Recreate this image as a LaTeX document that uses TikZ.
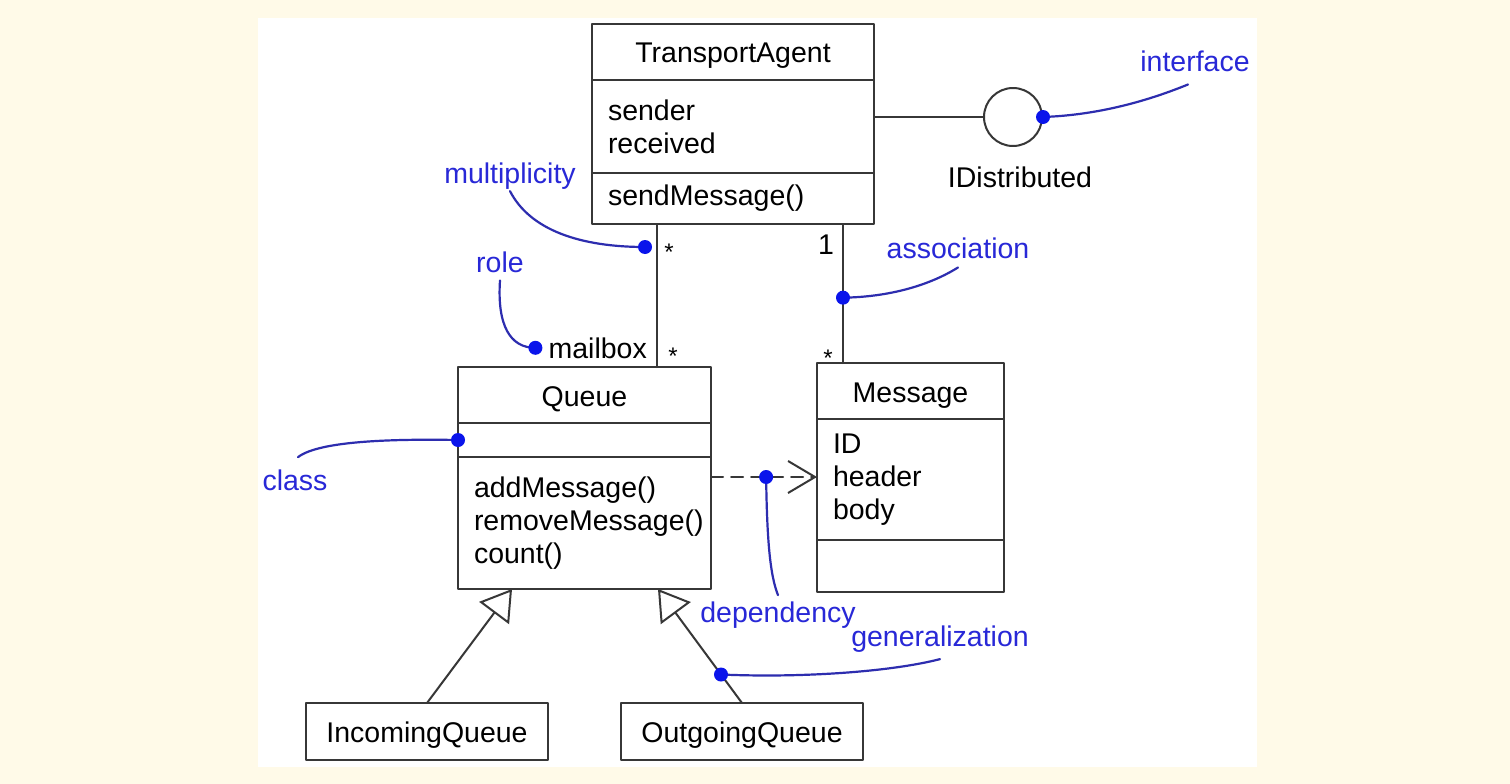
\documentclass[tikz,border=0pt]{standalone}
\usepackage{fontspec}
\setmainfont{Liberation Sans}
\usetikzlibrary{arrows.meta}
\definecolor{cream}{RGB}{255,250,232}
\definecolor{umlgray}{RGB}{55,55,55}
\definecolor{notetext}{RGB}{40,40,215}
\definecolor{notedot}{RGB}{10,20,235}
\definecolor{notecurve}{RGB}{45,45,175}
\begin{document}
\begin{tikzpicture}[x=1pt, y=-1pt, line join=round, line cap=round, font=\fontsize{28.5}{33}\selectfont,
	compart/.style 2 args={draw=umlgray, line width=2pt, minimum width=#1, minimum height=#2, inner sep=0pt, outer sep=0pt, anchor=north west},
	titlebox/.style 2 args={compart={#1}{#2}, text height=22pt, text depth=0pt},
	listbox/.style n args={3}{compart={#1}{#2}, text width=#3, align=left, inner xsep=16pt, execute at begin node={\hyphenpenalty=10000\exhyphenpenalty=10000}},
	umlline/.style={draw=umlgray, line width=2pt},
	depend/.style={umlline, dash pattern=on 12pt off 8pt, -{Straight Barb[length=27pt, width=32pt]}},
	gener/.style={umlline, -{Triangle[open, length=30pt, width=37pt]}},
	star/.style={font=\fontsize{24}{24}\selectfont, anchor=base, inner sep=0pt},
	note/.style={text=notetext, inner sep=2pt, anchor=base},
	notecurve/.style={draw=notecurve, line width=2.2pt}]
	\useasboundingbox (0,0) rectangle (1510,784);
	\fill[cream] (0,0) rectangle (1510,784);
	\fill[white] (258,18) rectangle (1257,767);
	% classes
	\node[titlebox={282pt}{56pt}] (ta) at (592,24) {TransportAgent};
	\node[listbox={282pt}{93pt}{250pt}] (taattr) at (ta.south west) {sender\\received};
	\node[listbox={282pt}{51pt}{250pt}] (taops) at (taattr.south west) {sendMessage()};
	\node[titlebox={253pt}{56pt}] (q) at (458,367) {Queue};
	\node[compart={253pt}{34pt}] (qattr) at (q.south west) {};
	\node[listbox={253pt}{132pt}{221pt}] (qops) at (qattr.south west) {addMessage()\\removeMessage()\\count()};
	\node[titlebox={187pt}{56pt}] (m) at (817,363) {Message};
	\node[listbox={187pt}{121pt}{155pt}] (mattr) at (m.south west) {ID\\header\\body};
	\node[compart={187pt}{52pt}] (mops) at (mattr.south west) {};
	\node[titlebox={242pt}{57pt}] (inq) at (306,703) {IncomingQueue};
	\node[titlebox={242pt}{57pt}] (outq) at (621,703) {OutgoingQueue};
	\node[circle, draw=umlgray, line width=2pt, minimum size=58pt, inner sep=0pt] (idist) at (1013,117) {};
	% relations
	\draw[umlline] ([xshift=65pt]taops.south west) coordinate (t1) -- (t1 |- q.north);
	\draw[umlline] ([xshift=-31pt]taops.south east) coordinate (t2) -- coordinate[pos=0.53] (adot) (t2 |- m.north);
	\draw[umlline] (idist.west -| taattr.east) -- (idist.west);
	\coordinate (dep) at ([yshift=-20pt]qops.north east);
	\draw[depend] (dep) -- coordinate[pos=0.52] (ddot) (dep -| mattr.west);
	\draw[gener] (inq.north) -- ([xshift=54pt]qops.south west);
	\draw[gener] (outq.north) -- coordinate[pos=0.25] (gdot) ([xshift=-53pt]qops.south east);
	\path
	(669,260) node[star] (s1) {*}
	(673,364) node[star] (s2) {*}
	(826,254) node[anchor=base, inner sep=0pt] (one) {1}
	(828,366) node[star] (s3) {*}
	(647,358) node[anchor=base east, inner sep=0pt] (mailbox) {mailbox}
	(1020,187) node[anchor=base, inner sep=0pt] (nidist) {IDistributed};
	% notes
	\path
	(510,183) node[note] (nmult) {multiplicity}
	(500,272) node[note] (nrole) {role}
	(1195,71) node[note] (niface) {interface}
	(958,258) node[note] (nassoc) {association}
	(295,490) node[note] (nclass) {class}
	(778,622) node[note] (ndep) {dependency}
	(940,646) node[note] (ngen) {generalization};
	\coordinate (mdot) at (645,247);
	\coordinate (rdot) at ([xshift=-13pt]mailbox.west);
	\draw[notecurve] (nmult.south) .. controls (530,230) and (580,247) .. (mdot);
	\draw[notecurve] ([yshift=-6pt]nrole.south) .. controls (497,325) and (510,348) .. (rdot);
	\draw[notecurve] (idist.east) .. controls (1100,115) and (1150,100) .. ([xshift=-7pt,yshift=-11pt]niface.south);
	\draw[notecurve] (adot) .. controls (890,297) and (930,285) .. ([yshift=-7pt]nassoc.south);
	\draw[notecurve] ([xshift=3pt,yshift=10pt]nclass.north) .. controls (320,440) and (400,439) .. (qattr.west);
	\draw[notecurve] (ddot) .. controls (767,540) and (770,575) .. ([yshift=4pt]ndep.north);
	\draw[notecurve] (gdot) .. controls (800,678) and (890,672) .. ([yshift=-5pt]ngen.south);
	\foreach \p in {mdot,rdot,idist.east,adot,qattr.west,ddot,gdot} \fill[notedot] (\p) circle (7);
\end{tikzpicture}
\end{document}
